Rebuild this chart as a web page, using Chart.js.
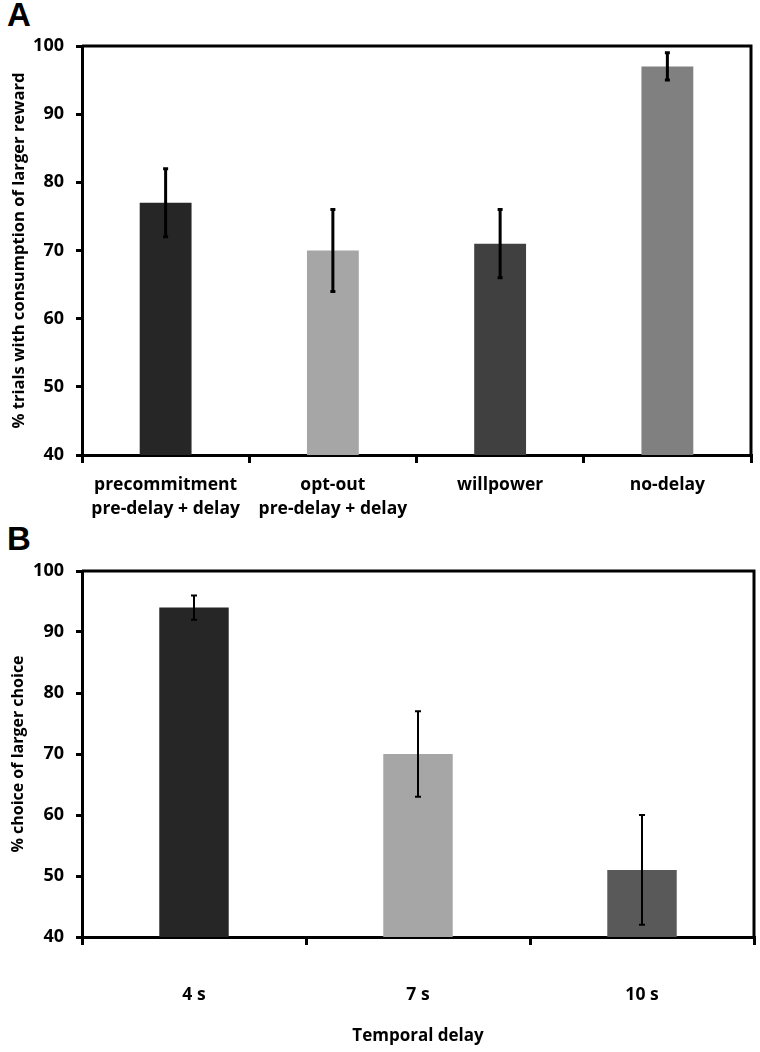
<!DOCTYPE html>
<html>
<head>
<meta charset="utf-8">
<script src="https://cdn.jsdelivr.net/npm/chart.js@4/dist/chart.umd.min.js"></script>
<style>
  body { margin: 0; background: #fff; width: 760px; height: 1052px; position: relative; overflow: hidden; }
  .panel { position: absolute; left: 0; width: 760px; }
  .letter { position: absolute; font-family: "Liberation Sans", Arial, sans-serif; font-weight: bold; font-size: 33px; color: #000; }
</style>
</head>
<body>
<div class="letter" style="left:7px; top:-4px;">A</div>
<div class="panel" style="top:0; height:520px;"><canvas id="chartA" width="760" height="520"></canvas></div>
<div class="letter" style="left:7px; top:520px;">B</div>
<div class="panel" style="top:520px; height:532px;"><canvas id="chartB" width="760" height="532"></canvas></div>
<script>
// パネルAのデータ
const catsA   = [['precommitment', 'pre-delay + delay'], ['opt-out', 'pre-delay + delay'], 'willpower', 'no-delay'];
const valuesA = [77, 70, 71, 97];
const errA    = [5, 6, 5, 2];
const colorsA = ['#262626', '#a6a6a6', '#404040', '#808080'];

// パネルBのデータ
const catsB   = ['4 s', '7 s', '10 s'];
const valuesB = [94, 70, 51];
const errB    = [2, 7, 9];
const colorsB = ['#262626', '#a6a6a6', '#595959'];

const yTicks = [40, 50, 60, 70, 80, 90, 100];
const FONT = '"Open Sans", Lato, sans-serif';

// エラーバーと枠線を描くプラグイン
function errorBarPlugin(errors, lineWidth, capHalf) {
    return {
        id: 'errorBars',
        afterDatasetsDraw(chart) {
            const ctx = chart.ctx;
            const meta = chart.getDatasetMeta(0);
            const yScale = chart.scales.y;
            const values = chart.data.datasets[0].data;
            ctx.save();
            ctx.strokeStyle = '#000';
            ctx.lineWidth = lineWidth;
            meta.data.forEach((bar, i) => {
                const yHi = yScale.getPixelForValue(values[i] + errors[i]);
                const yLo = yScale.getPixelForValue(values[i] - errors[i]);
                ctx.beginPath();
                ctx.moveTo(bar.x, yHi);
                ctx.lineTo(bar.x, yLo);
                ctx.moveTo(bar.x - capHalf, yHi);
                ctx.lineTo(bar.x + capHalf, yHi);
                ctx.moveTo(bar.x - capHalf, yLo);
                ctx.lineTo(bar.x + capHalf, yLo);
                ctx.stroke();
            });
            // 上と右の枠線
            const a = chart.chartArea;
            ctx.lineWidth = 3;
            ctx.beginPath();
            ctx.moveTo(a.left, a.top);
            ctx.lineTo(a.right, a.top);
            ctx.lineTo(a.right, a.bottom);
            ctx.stroke();
            ctx.restore();
        }
    };
}

function makeChart(id, cats, values, colors, errors, opts) {
    return new Chart(document.getElementById(id), {
        type: 'bar',
        data: {
            labels: cats,
            datasets: [{
                data: values,
                backgroundColor: colors,
                borderWidth: 0,
                categoryPercentage: 1,
                barPercentage: 0.31,
            }]
        },
        options: {
            responsive: false,
            animation: false,
            layout: { padding: opts.padding },
            plugins: {
                legend: { display: false },
                tooltip: { enabled: false },
            },
            scales: {
                x: {
                    grid: {
                        offset: true,
                        drawOnChartArea: false,
                        tickLength: 8,
                        lineWidth: 3,
                        color: '#000',
                    },
                    border: { color: '#000', width: 3 },
                    ticks: {
                        color: '#000',
                        padding: opts.xTickPad,
                        font: { family: FONT, size: 17.5, weight: 'bold', lineHeight: 1.37 },
                        maxRotation: 0,
                        autoSkip: false,
                    },
                    title: {
                        display: !!opts.xTitle,
                        text: opts.xTitle || '',
                        color: '#000',
                        padding: { top: 6, bottom: 6 },
                        font: { family: FONT, size: 17, weight: 'bold' },
                    },
                    afterFit(scale) { scale.height = opts.xHeight; }
                },
                y: {
                    min: 40,
                    max: 100,
                    afterBuildTicks(scale) { scale.ticks = yTicks.map(v => ({ value: v })); },
                    grid: {
                        drawOnChartArea: false,
                        tickLength: 6,
                        lineWidth: 3,
                        color: '#000',
                    },
                    border: { color: '#000', width: 3 },
                    ticks: {
                        color: '#000',
                        padding: 12,
                        font: { family: FONT, size: 18, weight: 'bold' },
                    },
                    title: {
                        display: true,
                        text: opts.yTitle,
                        color: '#000',
                        padding: { top: 4, bottom: 4 },
                        font: { family: FONT, size: opts.yTitleSize, weight: 'bold' },
                    },
                    afterFit(scale) { scale.width = 77; }
                }
            }
        },
        plugins: [errorBarPlugin(errors, opts.errWidth, opts.capHalf)]
    });
}

makeChart('chartA', catsA, valuesA, colorsA, errA, {
    padding: { left: 5, right: 9, top: 46, bottom: 0 },
    xHeight: 65,
    xTickPad: 10,
    yTitle: '% trials with consumption of larger reward',
    yTitleSize: 16.6,
    errWidth: 3,
    capHalf: 2.5,
});

makeChart('chartB', catsB, valuesB, colorsB, errB, {
    padding: { left: 5, right: 6, top: 51, bottom: 0 },
    xHeight: 115,
    xTickPad: 38,
    xTitle: 'Temporal delay',
    yTitle: '% choice of larger choice',
    yTitleSize: 16,
    errWidth: 2,
    capHalf: 3,
});
</script>
</body>
</html>
